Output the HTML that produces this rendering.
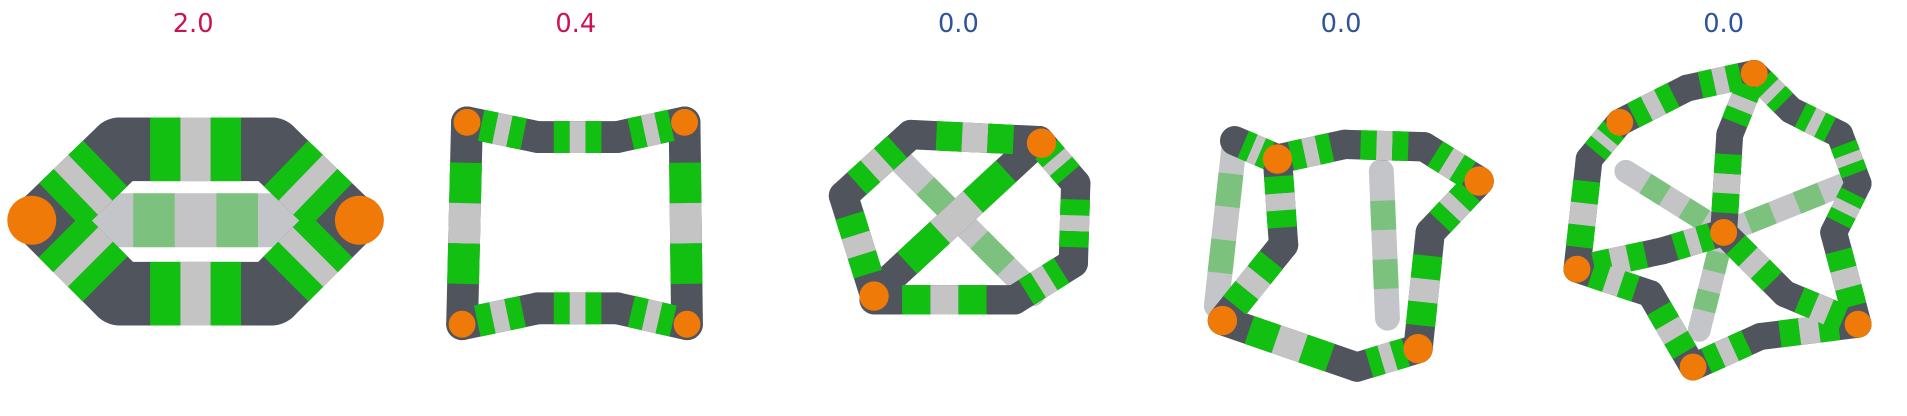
<!DOCTYPE html>
<html><head><meta charset="utf-8"><style>
html,body{margin:0;padding:0;background:#fff;}
svg{display:block;}
text{font-family:"DejaVu Sans","Liberation Sans",sans-serif;}
</style></head><body>
<svg id="s" width="1907" height="416" viewBox="0 0 1560 340" preserveAspectRatio="none" xmlns="http://www.w3.org/2000/svg">
<g id="titles"></g>
<g id="mols"></g>
</svg>
<script>
const scores = ["2.0","0.4","0.0","0.0","0.0"];
const scoreColors = ["#cc1155","#cc1155","#2f5597","#2f5597","#2f5597"];
const titleX = [158,471,784,1097,1410];
const NS="http://www.w3.org/2000/svg";
const tg=document.getElementById('titles'), mg=document.getElementById('mols');
scores.forEach((v,i)=>{
  const t=document.createElementNS(NS,'text');
  
  
  t.setAttribute('x',titleX[i]);t.setAttribute('y',26);t.setAttribute('text-anchor','middle');
  t.setAttribute('font-size',21);t.setAttribute('fill',scoreColors[i]);t.textContent=v;tg.appendChild(t);
});
const DK="#50545c",GR="#12c012",LG="#c4c4c4",OR="#f07a08";
const stripes=[[0.2,0.4,GR],[0.4,0.6,LG],[0.6,0.8,GR]];
function ln(g,a,b,t0,t1,w,c,cap,op){
  const l=document.createElementNS(NS,'line');
  
  
  l.setAttribute('x1',a[0]+(b[0]-a[0])*t0);l.setAttribute('y1',a[1]+(b[1]-a[1])*t0);
  l.setAttribute('x2',a[0]+(b[0]-a[0])*t1);l.setAttribute('y2',a[1]+(b[1]-a[1])*t1);
  l.setAttribute('stroke',c);l.setAttribute('stroke-width',w);l.setAttribute('stroke-linecap',cap);
  if(op)l.setAttribute('opacity',op);
  g.appendChild(l);
}
function node(g,p,r,c){
  const e=document.createElementNS(NS,'circle');
  
  
  e.setAttribute('cx',p[0]);e.setAttribute('cy',p[1]);e.setAttribute('r',r);e.setAttribute('fill',c);g.appendChild(e);
}
function mol(name,w,back,front,orange,orR){
  const g=document.createElementNS(NS,'g');
  
  
  mg.appendChild(g);
  const bw=w*0.85;
  back.forEach(e=>{ln(g,e[0],e[1],0,1,bw,"#8a8d92","round",0.5);stripes.forEach(s=>ln(g,e[0],e[1],s[0],s[1],bw,s[2],"butt",0.4));});
  front.forEach(e=>ln(g,e[0],e[1],0,1,w,DK,"round"));
  front.forEach(e=>stripes.forEach(s=>ln(g,e[0],e[1],s[0],s[1],w,s[2],"butt")));
  orange.forEach(p=>node(g,p,orR||w*0.5,OR));
}
// molecule 1
mol('molecule-1',52,[[[75,180],[245,180]]],
 [[[38,180],[98,122]],[[98,122],[222,122]],[[222,122],[282,180]],[[38,180],[98,240]],[[98,240],[222,240]],[[222,240],[282,180]]],
 [[26,180],[294,180]],20);
// molecule 2
mol('molecule-2',26,[],
 [[[382,100],[440,112]],[[440,112],[505,112]],[[505,112],[560,100]],[[560,100],[562,265]],[[382,100],[378,265]],
  [[378,265],[440,252]],[[440,252],[505,252]],[[505,252],[562,265]]],
 [[382,100],[560,100],[378,265],[562,265]],11);
// molecule 3
mol('molecule-3',24,[[[735,130],[845,240]]],
 [[[715,240],[690,160]],[[690,160],[745,110]],[[745,110],[850,115]],[[850,115],[880,150]],[[880,150],[878,215]],[[878,215],[830,245]],[[830,245],[715,245]],[[715,240],[850,115]]],
 [[715,242],[852,117]],12);
// molecule 4
mol('molecule-4',24,[[[1010,115],[995,250]],[[1130,140],[1135,260]]],
 [[[1045,130],[1100,118]],[[1100,118],[1165,120]],[[1165,120],[1210,148]],[[1210,148],[1170,190]],[[1170,190],[1160,285]],[[1160,285],[1110,300]],[[1110,300],[1000,262]],[[1000,262],[1050,200]],[[1050,200],[1045,130]],[[1045,130],[1010,115]]],
 [[1045,130],[1210,148],[1000,262],[1160,285]],12);
// molecule 5
mol('molecule-5',22,[[[1330,140],[1410,190]],[[1410,190],[1510,150]],[[1410,190],[1390,270]]],
 [[[1435,60],[1380,72]],[[1380,72],[1325,100]],[[1325,100],[1300,130]],[[1300,130],[1290,220]],[[1290,220],[1360,205]],[[1360,205],[1410,190]],[[1410,190],[1415,110]],[[1415,110],[1435,60]],[[1435,60],[1465,90]],[[1465,90],[1505,110]],[[1505,110],[1520,150]],[[1520,150],[1500,190]],[[1500,190],[1520,265]],[[1520,265],[1440,275]],[[1440,275],[1385,300]],[[1385,300],[1350,240]],[[1350,240],[1290,220]],[[1410,190],[1460,240]],[[1460,240],[1520,265]]],
 [[1435,60],[1410,190],[1290,220],[1520,265],[1385,300],[1325,100]],11);
</script>
</body></html>
